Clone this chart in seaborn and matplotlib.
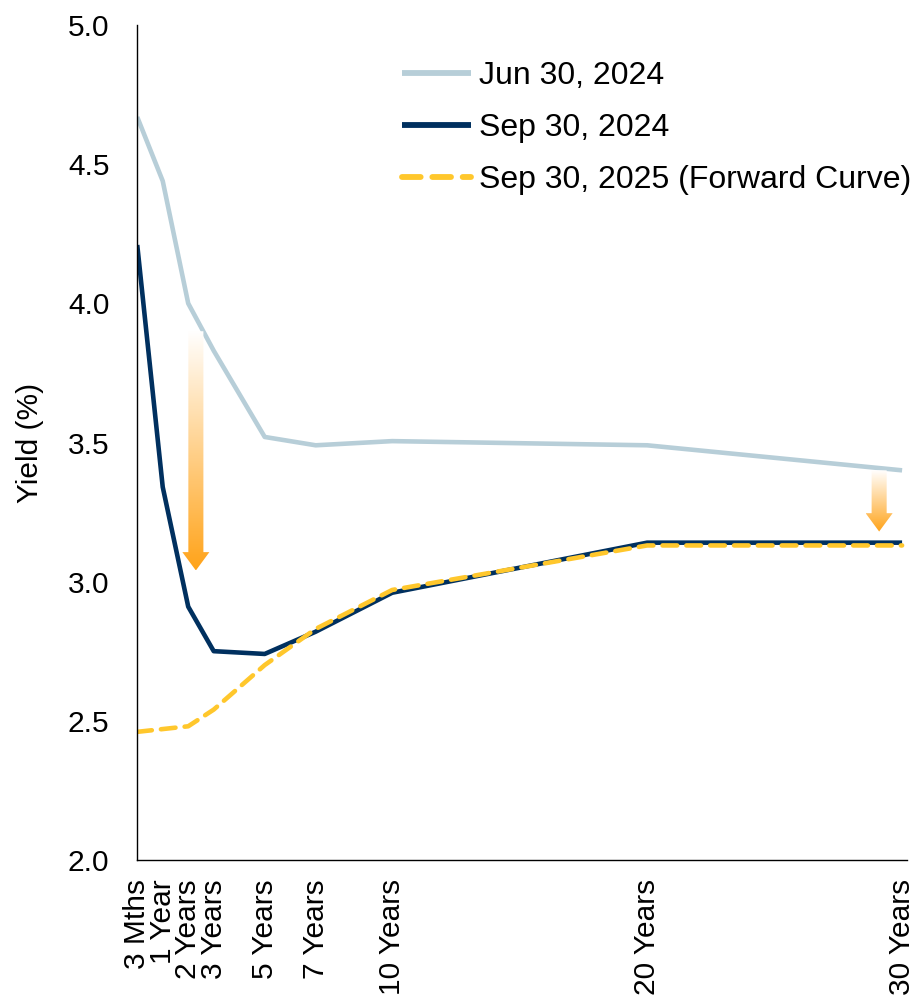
import matplotlib
matplotlib.use("Agg")
import matplotlib.pyplot as plt
from matplotlib.patches import Polygon
import numpy as np
import pandas as pd
import seaborn as sns

# maturities (years); 3 Mths sits at 0 on the chart's axis
maturity = [0, 1, 2, 3, 5, 7, 10, 20, 30]
tick_labels = ["3 Mths", "1 Year", "2 Years", "3 Years", "5 Years",
               "7 Years", "10 Years", "20 Years", "30 Years"]

jun_2024 = [4.67, 4.44, 4.00, 3.83, 3.52, 3.49, 3.505, 3.49, 3.40]
sep_2024 = [4.21, 3.34, 2.91, 2.75, 2.74, 2.82, 2.96, 3.14, 3.14]
fwd_2025 = [2.46, 2.47, 2.48, 2.54, 2.70, 2.83, 2.97, 3.13, 3.13]

series_names = ["Jun 30, 2024", "Sep 30, 2024", "Sep 30, 2025 (Forward Curve)"]
colors = ["#B7CED8", "#00305F", "#FFC72C"]

df = pd.DataFrame({
    "maturity": maturity * 3,
    "yield": jun_2024 + sep_2024 + fwd_2025,
    "series": [s for s in series_names for _ in maturity],
})

sns.set_style("white")
plt.rcParams["font.family"] = ["Liberation Sans", "DejaVu Sans"]
plt.rcParams["text.color"] = "black"
plt.rcParams["axes.labelcolor"] = "black"
plt.rcParams["xtick.color"] = "black"
plt.rcParams["ytick.color"] = "black"

FS = 21.5

fig = plt.figure(figsize=(9.21, 10.08), dpi=100)
ax = fig.add_axes([0.149, 0.147, 0.836, 0.828])

sns.lineplot(data=df, x="maturity", y="yield", hue="series", style="series",
             palette=colors, dashes=["", "", (3.2, 2.0)],
             linewidth=3.3, ax=ax, legend=True)
for ln in ax.lines:
    ln.set_solid_capstyle("butt")
    ln.set_dash_capstyle("round")


def gradient_arrow(ax, x, y_top, y_tip, shaft_w, head_w, head_len):
    # vertical arrow filled with a white -> orange gradient
    y_neck = y_tip + head_len
    pts = [(x - shaft_w / 2, y_top), (x + shaft_w / 2, y_top),
           (x + shaft_w / 2, y_neck), (x + head_w / 2, y_neck),
           (x, y_tip), (x - head_w / 2, y_neck), (x - shaft_w / 2, y_neck)]
    poly = Polygon(pts, closed=True, facecolor="none", edgecolor="none")
    ax.add_patch(poly)
    t = np.linspace(0, 1, 256)[:, None]
    orange = np.array([1.0, 0.64, 0.10])[None, :]
    rgb = (1 - t) * 1.0 + t * orange
    rgba = np.ones((256, 1, 4))
    rgba[:, 0, :3] = rgb
    im = ax.imshow(rgba, extent=[x - head_w / 2, x + head_w / 2, y_tip, y_top],
                   origin="upper", aspect="auto", zorder=3, interpolation="bilinear")
    im.set_clip_path(poly)


gradient_arrow(ax, 2.3, 3.90, 3.04, 0.59, 1.06, 0.066)
gradient_arrow(ax, 29.1, 3.40, 3.18, 0.59, 1.06, 0.066)

ax.set_xlim(0, 30.2)
ax.set_ylim(2.0, 5.0)
ax.set_xticks(maturity)
ax.set_xticklabels(tick_labels, rotation=90, fontsize=FS, va="top", ha="center")
ax.set_yticks(np.arange(2.0, 5.01, 0.5))
ax.set_yticklabels([f"{v:.1f}" for v in np.arange(2.0, 5.01, 0.5)], fontsize=FS)
ax.tick_params(axis="y", length=0, pad=20)
ax.tick_params(axis="x", length=0, pad=14)
ax.set_xlabel("")
ax.set_ylabel("Yield (%)", fontsize=FS, labelpad=17)

for side in ["top", "right"]:
    ax.spines[side].set_visible(False)
for side in ["left", "bottom"]:
    ax.spines[side].set_color("black")
    ax.spines[side].set_linewidth(1.0)

leg = ax.legend(loc="upper left", bbox_to_anchor=(0.307, 0.991), frameon=False,
                fontsize=23, handlelength=2.15, handletextpad=0.25, labelspacing=0.68)
for h in leg.get_lines():
    h.set_linewidth(4.2)

fig.savefig("out.png", dpi=100)
